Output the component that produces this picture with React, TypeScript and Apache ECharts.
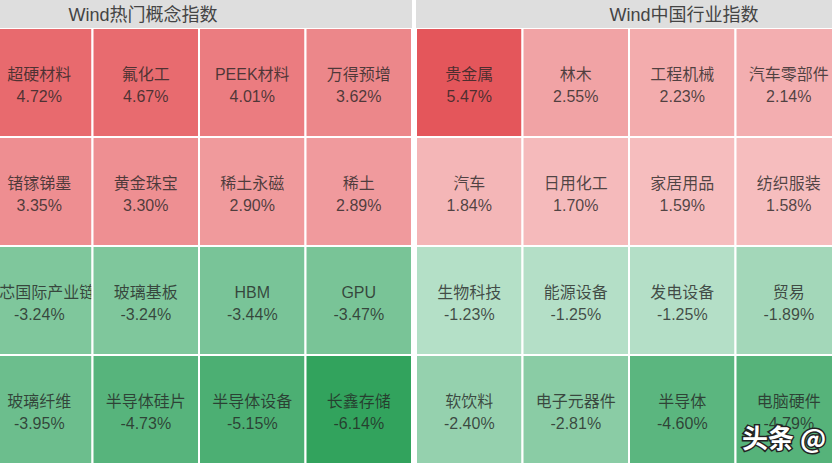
import React, { useEffect, useRef } from "react";
import * as echarts from "echarts";

const columns = ["c1", "c2", "c3", "c4"];
const rows = ["r1", "r2", "r3", "r4"];

const conceptTitle = "Wind热门概念指数";
const conceptNames = [
  "超硬材料", "氟化工", "PEEK材料", "万得预增",
  "锗镓锑墨", "黄金珠宝", "稀土永磁", "稀土",
  "中芯国际产业链", "玻璃基板", "HBM", "GPU",
  "玻璃纤维", "半导体硅片", "半导体设备", "长鑫存储",
];
const conceptValues = [
  4.72, 4.67, 4.01, 3.62,
  3.35, 3.30, 2.90, 2.89,
  -3.24, -3.24, -3.44, -3.47,
  -3.95, -4.73, -5.15, -6.14,
];

const industryTitle = "Wind中国行业指数";
const industryNames = [
  "贵金属", "林木", "工程机械", "汽车零部件",
  "汽车", "日用化工", "家居用品", "纺织服装",
  "生物科技", "能源设备", "发电设备", "贸易",
  "软饮料", "电子元器件", "半导体", "电脑硬件",
];
const industryValues = [
  5.47, 2.55, 2.23, 2.14,
  1.84, 1.70, 1.59, 1.58,
  -1.23, -1.25, -1.25, -1.89,
  -2.40, -2.81, -4.60, -4.79,
];

const FONT = '"Liberation Sans", "Noto Sans CJK SC", sans-serif';

function mix(a: number[], b: number[], t: number) {
  const c = Math.max(0, Math.min(1, t));
  const r = a.map((v, i) => Math.round(v + (b[i] - v) * c));
  return `rgb(${r[0]},${r[1]},${r[2]})`;
}

function colorFor(v: number) {
  if (v >= 0) {
    return mix([246, 191, 192], [228, 85, 90], (v - 1.5) / 4);
  }
  return mix([181, 224, 200], [48, 162, 92], (-v - 1.2) / 5);
}

function buildData(values: number[]) {
  return values.map((v, i) => [i % 4, Math.floor(i / 4), v]);
}

export default function App() {
  const ref = useRef<HTMLDivElement>(null);
  useEffect(() => {
    if (!ref.current) return;
    const chart = echarts.init(ref.current, null, { renderer: "svg" });
    const makeSeries = (idx: number, names: string[], values: number[]) => ({
      type: "custom",
      xAxisIndex: idx,
      yAxisIndex: idx,
      data: buildData(values),
      encode: { x: 0, y: 1 },
      clip: false,
      renderItem: (params: any, api: any) => {
        const x = api.value(0);
        const y = api.value(1);
        const v = api.value(2);
        const c = api.coord([x, y]);
        const s = api.size([1, 1]);
        const name = names[params.dataIndex];
        const rect = { x: c[0] - s[0] / 2, y: c[1] - s[1] / 2, width: s[0], height: s[1] };
        return {
          type: "group",
          children: [
            {
              type: "rect",
              shape: rect,
              style: { fill: colorFor(v), stroke: "#ffffff", lineWidth: 2 },
            },
            {
              type: "text",
              x: c[0],
              y: c[1] + 3,
              clipPath: {
                type: "rect",
                shape: { x: rect.x - c[0], y: rect.y - c[1] - 3, width: rect.width - 1, height: rect.height },
              },
              style: {
                text: `${name}\n${v.toFixed(2)}%`,
                fontFamily: FONT,
                fontSize: 16,
                lineHeight: 22,
                fill: "rgba(35,35,35,0.78)",
                align: "center",
                verticalAlign: "middle",
              },
            },
          ],
        };
      },
    });
    chart.setOption({
      animation: false,
      backgroundColor: "#ffffff",
      grid: [
        { left: -14, top: 28, width: 426, height: 436, outerBoundsMode: "none" },
        { left: 416, top: 28, width: 426, height: 436, outerBoundsMode: "none" },
      ],
      xAxis: [0, 1].map((i) => ({
        type: "category",
        gridIndex: i,
        data: columns,
        show: false,
      })),
      yAxis: [0, 1].map((i) => ({
        type: "category",
        gridIndex: i,
        data: rows,
        inverse: true,
        show: false,
      })),
      series: [
        makeSeries(0, conceptNames, conceptValues),
        makeSeries(1, industryNames, industryValues),
      ],
      graphic: [
        { type: "rect", left: 0, top: 0, shape: { width: 412, height: 28 }, style: { fill: "#dedede" }, z: 10 },
        { type: "rect", left: 412, top: 0, shape: { width: 4, height: 468 }, style: { fill: "#ffffff" }, z: 10 },
        { type: "rect", left: 416, top: 0, shape: { width: 416, height: 28 }, style: { fill: "#dedede" }, z: 10 },
        {
          type: "text", x: 143, y: 15, z: 11,
          style: { text: conceptTitle, fontFamily: FONT, fontSize: 18, fill: "#444444", align: "center", verticalAlign: "middle" },
        },
        {
          type: "text", x: 684, y: 15, z: 11,
          style: { text: industryTitle, fontFamily: FONT, fontSize: 18, fill: "#444444", align: "center", verticalAlign: "middle" },
        },
        {
          type: "text", x: 742, y: 436, z: 20,
          style: {
            text: "头条 @", fontFamily: '"Noto Sans CJK SC", sans-serif', fontSize: 26, fontWeight: "bold",
            fill: "#ffffff", stroke: "#222222", lineWidth: 3, align: "left", verticalAlign: "middle",
          },
        },
      ],
    });
    return () => chart.dispose();
  }, []);
  return (
    <div
      ref={ref}
      style={{ position: "fixed", left: 0, top: 0, width: 832, height: 468 }}
    />
  );
}
